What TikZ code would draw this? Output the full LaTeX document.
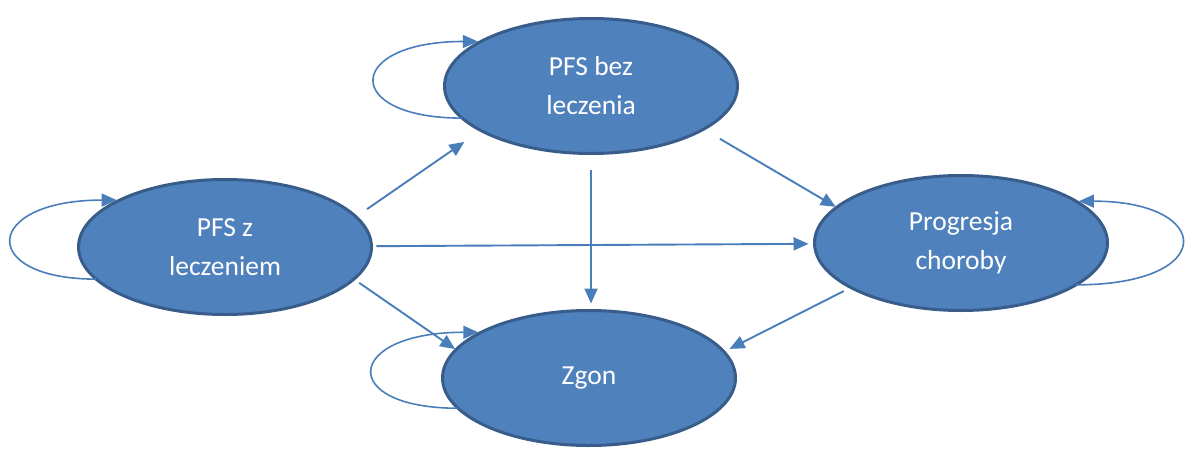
\documentclass[tikz,border=0pt]{standalone}
\usepackage{fontspec}
\setmainfont{Carlito}
\usetikzlibrary{arrows.meta,shapes.geometric}
\definecolor{fillblue}{HTML}{4F81BD}
\definecolor{edgeblue}{HTML}{385D8A}
\definecolor{arrowblue}{HTML}{4A7EBB}
\begin{document}
\begin{tikzpicture}[x=1pt,y=-1pt,
  state/.style={ellipse, draw=edgeblue, line width=3pt, fill=fillblue,
    minimum width=293pt, minimum height=135pt, inner sep=0pt, outer sep=0pt,
    text=white, align=center, font=\fontsize{27.5}{39}\selectfont},
  link/.style={draw=arrowblue, line width=1.9pt, -{Triangle[length=15pt,width=13pt]}},
  loopline/.style={draw=arrowblue, line width=1.6pt, -{Triangle[length=15pt,width=13pt]}, shorten >=3pt}]
\useasboundingbox (0,0) rectangle (1195,450);
\node[state] (pb) at (591,86) {PFS bez\\leczenia};
\node[state] (pz) at (225,247) {PFS z\\leczeniem};
\node[state] (pr) at (961,243) {Progresja\\choroby};
\node[state] (zg) at (589,378) {Zgon};
% transitions
\draw[link, shorten <=13.5pt, shorten >=20pt] (pz.13.8) -- (pb.202.9);
\draw[link, shorten <=5pt, shorten >=6pt] (pz) -- (pr);
\draw[link, shorten <=16.5pt, shorten >=7pt] (pb.south) -- (pb.south |- zg.north);
\draw[link, shorten <=19pt, shorten >=1pt] (pb.-21.5) -- (pr.164.1);
\draw[link, shorten <=6.5pt, shorten >=1pt] (pz.-14.2) -- (zg.168.2);
\draw[link, shorten <=8pt, shorten >=6.3pt] (pr.202.1) -- (zg.11.4);
% self loops
\draw[loopline] (pb.194.8) .. controls +(-121,0) and +(-136,0) .. (pb.158);
\draw[loopline] (pz.194.5) .. controls +(-119,0) and +(-137,0) .. (pz.156.4);
\draw[loopline] (zg.193.6) .. controls +(-121,0) and +(-137,0) .. (zg.157.5);
\draw[loopline] (pr.340.1) .. controls +(143,0) and +(138,0) .. (pr.20);
\end{tikzpicture}
\end{document}
